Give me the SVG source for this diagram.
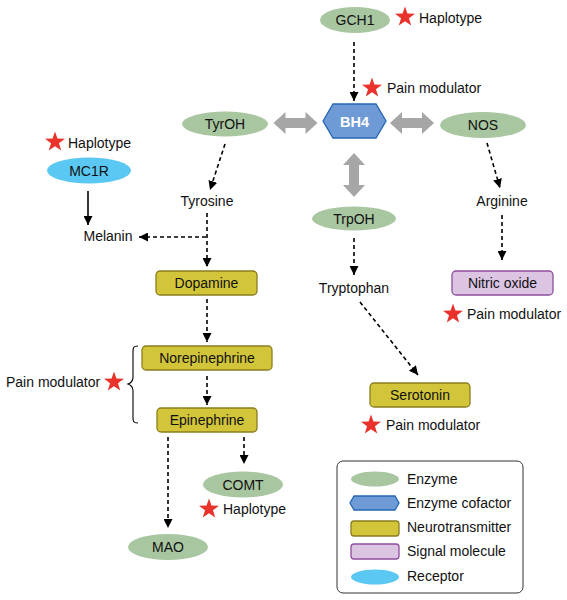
<svg xmlns="http://www.w3.org/2000/svg" width="567" height="600" viewBox="0 0 567 600">
<defs>
<marker id="ah" markerUnits="userSpaceOnUse" markerWidth="10" markerHeight="9" refX="9" refY="4.5" orient="auto">
<path d="M0,0 L9,4.5 L0,9 Z" fill="#000"/>
</marker>
<path id="dbl" d="M-22,0 L-10,-11 L-10,-5 L10,-5 L10,-11 L22,0 L10,11 L10,5 L-10,5 L-10,11 Z" fill="#a6a6a6"/>
<path id="star" d="M0,-10.5 L2.45,-3.4 L10,-3.25 L3.95,1.3 L6.2,8.5 L0,4.2 L-6.2,8.5 L-3.95,1.3 L-10,-3.25 L-2.45,-3.4 Z" fill="#e8322b"/>
</defs>
<style>
text{font-family:"Liberation Sans",Arial,sans-serif;font-size:14px;fill:#111}
.c{text-anchor:middle}
.enz{fill:#a8c6a0}
.rec{fill:#5ac8f2}
.nt{fill:#d2c53a;stroke:#8a7f1e;stroke-width:1.3}
.sig{fill:#dcc4e3;stroke:#8e4f9c;stroke-width:1.3}
.hex{fill:#6e9bd6;stroke:#2467b3;stroke-width:1.3}
.d{stroke:#000;stroke-width:1.6;stroke-dasharray:4,3;fill:none;marker-end:url(#ah)}
.s{stroke:#000;stroke-width:1.6;fill:none;marker-end:url(#ah)}
</style>
<rect width="567" height="600" fill="#fff"/>

<g id="connectors">
<line class="d" x1="354" y1="42" x2="354" y2="101"/>
<use href="#dbl" x="295.5" y="123"/>
<use href="#dbl" x="412" y="123"/>
<use href="#dbl" transform="translate(354,175) rotate(90)"/>
<line class="d" x1="225" y1="144" x2="210" y2="190"/>
<line class="d" x1="487" y1="143" x2="500" y2="188"/>
<line class="s" x1="88" y1="191" x2="88" y2="225"/>
<line class="d" x1="207" y1="213" x2="207" y2="267"/>
<line class="d" x1="206" y1="237" x2="139" y2="237"/>
<line class="d" x1="207" y1="299" x2="207" y2="342"/>
<line class="d" x1="207" y1="376" x2="207" y2="405"/>
<line class="d" x1="168" y1="437" x2="168" y2="528"/>
<line class="d" x1="244" y1="437" x2="244" y2="464"/>
<line class="d" x1="354" y1="238" x2="354" y2="275"/>
<line class="d" x1="360" y1="302" x2="418" y2="375"/>
<line class="d" x1="502" y1="215" x2="502" y2="260"/>
<path d="M138,346 C133,346 133,348 133,352 L133,377 C133,381 131,383 128,384 C131,385 133,387 133,391 L133,417 C133,421 133,423 138,423" fill="none" stroke="#000" stroke-width="1.1"/>
</g>

<g id="GCH1"><ellipse class="enz" cx="355" cy="20" rx="35" ry="13"/><text class="c" x="355" y="25">GCH1</text></g>
<g id="GCH1-mark"><use href="#star" x="405" y="17"/><text x="419" y="23">Haplotype</text></g>
<g id="BH4-mark"><use href="#star" x="372" y="88"/><text x="387" y="93">Pain modulator</text></g>
<g id="BH4"><polygon class="hex" points="323,121 333,104 376,104 386,121 376,138 333,138"/><text class="c" x="354.5" y="126.5" style="fill:#fff;font-weight:bold;font-size:14.5px">BH4</text></g>
<g id="TyrOH"><ellipse class="enz" cx="225" cy="124" rx="43" ry="12.5"/><text class="c" x="225" y="129">TyrOH</text></g>
<g id="NOS"><ellipse class="enz" cx="483" cy="125" rx="43" ry="13"/><text class="c" x="483" y="130">NOS</text></g>
<g id="TrpOH"><ellipse class="enz" cx="354" cy="218.5" rx="42" ry="12"/><text class="c" x="354" y="223.5">TrpOH</text></g>
<g id="MC1R-mark"><use href="#star" x="55" y="142"/><text x="68" y="148">Haplotype</text></g>
<g id="MC1R"><ellipse class="rec" cx="89" cy="170.5" rx="42" ry="13"/><text class="c" x="89" y="175.5">MC1R</text></g>
<g id="Tyrosine"><text class="c" x="207" y="206">Tyrosine</text></g>
<g id="Melanin"><text class="c" x="108" y="241">Melanin</text></g>
<g id="Arginine"><text class="c" x="502" y="206">Arginine</text></g>
<g id="Tryptophan"><text class="c" x="354" y="293">Tryptophan</text></g>
<g id="Dopamine"><rect class="nt" x="156" y="271" width="101" height="24" rx="4"/><text class="c" x="206.5" y="288">Dopamine</text></g>
<g id="Norepinephrine"><rect class="nt" x="142" y="346" width="130" height="24" rx="4"/><text class="c" x="207" y="363">Norepinephrine</text></g>
<g id="Epinephrine"><rect class="nt" x="157" y="408" width="100" height="24" rx="4"/><text class="c" x="207" y="425">Epinephrine</text></g>
<g id="NE-mark"><text x="6" y="387">Pain modulator</text><use href="#star" x="114" y="382"/></g>
<g id="COMT"><ellipse class="enz" cx="243" cy="484.5" rx="40" ry="13"/><text class="c" x="243" y="489.5">COMT</text></g>
<g id="COMT-mark"><use href="#star" x="209" y="509"/><text x="223" y="514">Haplotype</text></g>
<g id="MAO"><ellipse class="enz" cx="168" cy="547" rx="40" ry="13"/><text class="c" x="168" y="552">MAO</text></g>
<g id="Serotonin"><rect class="nt" x="370" y="383" width="100" height="24" rx="4"/><text class="c" x="420" y="400">Serotonin</text></g>
<g id="Serotonin-mark"><use href="#star" x="371" y="425"/><text x="386" y="430">Pain modulator</text></g>
<g id="NitricOxide"><rect class="sig" x="452" y="271" width="101" height="24" rx="4"/><text class="c" x="502.5" y="288">Nitric oxide</text></g>
<g id="NO-mark"><use href="#star" x="453" y="314"/><text x="467" y="319">Pain modulator</text></g>

<g id="legend">
<rect x="337" y="461" width="186" height="132" rx="6" fill="#fff" stroke="#333" stroke-width="1"/>
<ellipse class="enz" cx="375" cy="479" rx="24" ry="7.5"/><text x="407" y="484">Enzyme</text>
<polygon class="hex" points="350,503 354,496 395,496 399,503 395,510 354,510"/><text x="407" y="508">Enzyme cofactor</text>
<rect class="nt" x="351" y="521" width="48" height="15" rx="3"/><text x="407" y="532">Neurotransmitter</text>
<rect class="sig" x="351" y="544" width="48" height="15" rx="3"/><text x="407" y="556">Signal molecule</text>
<ellipse class="rec" cx="375" cy="577" rx="24" ry="7.5"/><text x="407" y="581">Receptor</text>
</g>
</svg>
